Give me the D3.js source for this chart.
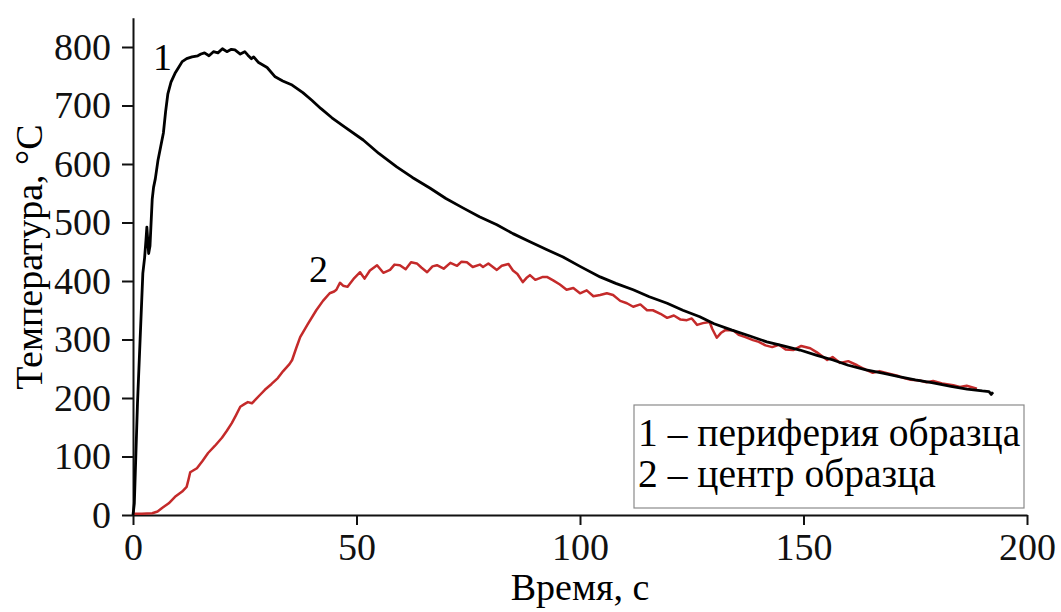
<!DOCTYPE html>
<html>
<head>
<meta charset="utf-8">
<script src="https://cdn.jsdelivr.net/npm/d3@7"></script>
<style>
  body { margin: 0; background: #fff; }
  .axis path, .axis line { stroke: #111; stroke-width: 2; }
  .curve { fill: none; stroke-linejoin: round; }
</style>
</head>
<body>
<svg width="1061" height="612"></svg>
<script>
// время, с / температура, °C
const periphery = [
  [0, 0], [0.3, 20], [1.0, 190], [2.2, 413], [2.6, 440], [2.9, 470], [3.1, 492], [3.3, 470],
  [3.5, 447], [3.8, 460], [4.3, 540], [4.6, 560], [5.0, 575], [5.6, 607], [6.2, 630],
  [6.8, 653], [7.3, 690], [7.8, 720], [8.5, 740], [9.4, 755], [10.2, 765], [11, 775],
  [12, 780], [13.2, 783], [14.5, 785], [15.2, 788], [16, 790], [17, 785], [18, 792],
  [19, 790], [20, 797], [21, 792], [22, 796], [22.8, 795], [24, 788], [25, 792],
  [25.7, 786], [26.5, 780], [27, 783], [28, 774], [30, 765], [31.8, 749], [33.5, 742],
  [35.6, 735], [38, 722], [40, 709], [42, 695], [44.5, 679], [47.4, 663], [51.5, 641],
  [55, 618], [59, 595], [62.5, 577], [66.4, 559], [70, 541], [73.8, 525], [77.5, 510],
  [81.4, 496], [85, 481], [88.8, 467], [92.5, 454], [96.2, 441], [100, 425], [104.5, 407],
  [108, 396], [111.9, 385], [115.5, 373], [119.5, 362], [123, 350], [126.8, 339],
  [130, 327], [134, 316], [138, 306], [141.8, 296], [145.5, 289], [149.2, 282], [153, 273],
  [156.6, 265], [160, 256], [164, 248], [168, 242], [171.6, 236], [175, 231], [179, 226],
  [183, 220], [186.6, 215], [190, 212], [191.5, 211], [192, 206], [192.4, 210]
];

const center = [
  [0, 2], [2, 2], [4.3, 3], [5.5, 6], [6.5, 12], [8, 20], [9.4, 31], [11, 40], [12, 48],
  [12.4, 60], [12.8, 73], [14.3, 80], [15.5, 92], [16.8, 106], [18.3, 118], [19.9, 132],
  [21, 144], [22.1, 157], [23, 170], [24, 185], [25, 190], [25.7, 193], [26.6, 191],
  [27.5, 198], [28.5, 206], [29.5, 214], [31, 224], [32.4, 234], [33.6, 246], [35, 258],
  [35.6, 265], [36.5, 285], [37.4, 304], [39, 325], [41, 350], [42.5, 366], [44, 379],
  [45, 382], [45.5, 385], [46.3, 397], [47, 392], [48, 390], [49.5, 405], [50.8, 415],
  [51.8, 404], [53, 418], [54.6, 427], [56, 414], [57.5, 419], [58.5, 428], [59.7, 427],
  [61, 420], [62.2, 432], [63.5, 430], [64.5, 423], [65.8, 415], [67, 425], [68, 427],
  [69.5, 421], [71, 431], [72.5, 426], [73.5, 433], [74.7, 432], [76, 424], [77.6, 428],
  [78.3, 424], [79.5, 430], [81.4, 419], [82.5, 426], [84, 429], [85, 418], [86, 412],
  [87.2, 398], [88, 405], [88.8, 410], [90, 402], [91.7, 407], [92.6, 407], [94, 401],
  [95.5, 394], [97, 385], [98.5, 388], [100, 379], [101.5, 384], [103, 374], [104.5, 376],
  [106, 379], [107.4, 376], [109, 366], [110.5, 362], [111.9, 356], [113.5, 360],
  [115, 350], [116.3, 350], [118, 344], [119.5, 337], [121, 341], [122.5, 334],
  [123.9, 333], [125, 336], [126.2, 325], [127.5, 328], [129, 330], [129.6, 318],
  [130.6, 303], [131.5, 311], [132.5, 316], [134.2, 316], [135.5, 308], [137, 304],
  [138.7, 299], [140, 296], [141.5, 290], [143, 287], [144.5, 291], [146, 283],
  [147.7, 282], [149.5, 289], [151.5, 285], [153, 278], [155.3, 265], [156.5, 270],
  [158.2, 260], [160, 263], [162, 256], [163.5, 250], [165.5, 243], [167, 246],
  [168.5, 243], [171, 238], [172.5, 234], [174, 231], [176, 230], [177.5, 227],
  [179, 229], [181, 225], [183.5, 222], [185, 219], [186.5, 221], [188.8, 216]
];

const xTicks = [0, 50, 100, 150, 200];
const yTicks = [0, 100, 200, 300, 400, 500, 600, 700, 800];
const legendItems = ["1 – периферия образца", "2 – центр образца"];

const serif = "'Liberation Serif', 'DejaVu Serif', 'Times New Roman', serif";

const svg = d3.select("svg");

const x = d3.scaleLinear().domain([0, 200]).range([133, 1027]);
const y = d3.scaleLinear().domain([0, 850]).range([515, 17.75]);

// оси
const xAxis = svg.append("g").attr("class", "axis").attr("transform", "translate(0,515)");
xAxis.call(d3.axisBottom(x).tickValues(d3.range(25, 200, 50)).tickSize(5).tickFormat(""));
xAxis.call(d3.axisBottom(x).tickValues(xTicks).tickSize(10).tickSizeOuter(0).tickPadding(8));

const yAxis = svg.append("g").attr("class", "axis").attr("transform", "translate(133,0)");
yAxis.call(d3.axisLeft(y).tickValues(d3.range(50, 851, 100)).tickSize(6).tickFormat(""));
yAxis.call(d3.axisLeft(y).tickValues(yTicks).tickSize(11).tickSizeOuter(0).tickPadding(11));

svg.selectAll(".axis").attr("font-family", serif).attr("font-size", 38);
svg.selectAll(".axis text").attr("fill", "#111");
xAxis.selectAll("text").attr("dy", "0.71em");

// подписи осей
svg.append("text")
  .attr("x", 580).attr("y", 600)
  .attr("text-anchor", "middle")
  .style("font-family", serif).style("font-size", "38px")
  .text("Время, с");

svg.append("text")
  .attr("transform", "translate(42,257) rotate(-90)")
  .attr("text-anchor", "middle")
  .style("font-family", serif).style("font-size", "38px")
  .text("Температура, °С");

// кривые
const line = d3.line().x(d => x(d[0])).y(d => y(d[1]));

svg.append("path").datum(center)
  .attr("class", "curve")
  .attr("stroke", "#c42a2a")
  .attr("stroke-width", 2.5)
  .attr("d", line);

svg.append("path").datum(periphery)
  .attr("class", "curve")
  .attr("stroke", "#000")
  .attr("stroke-width", 2.8)
  .attr("d", line);

// номера кривых
svg.append("text").attr("x", 153).attr("y", 70)
  .style("font-family", serif).style("font-size", "38px").text("1");
svg.append("text").attr("x", 309).attr("y", 282)
  .style("font-family", serif).style("font-size", "38px").text("2");

// легенда
const lg = svg.append("g");
lg.append("rect")
  .attr("x", 634).attr("y", 405).attr("width", 390).attr("height", 103)
  .attr("fill", "#fff").attr("stroke", "#8a8a8a").attr("stroke-width", 1.2);
lg.selectAll("text").data(legendItems).enter().append("text")
  .attr("x", 638)
  .attr("y", (d, i) => 446 + i * 41)
  .style("font-family", serif).style("font-size", "39.5px")
  .text(d => d);
</script>
</body>
</html>
